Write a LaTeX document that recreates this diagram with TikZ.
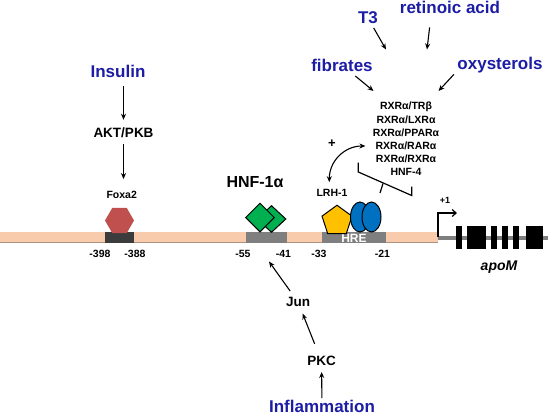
\documentclass[tikz,border=0pt]{standalone}
\usepackage{fontspec}
\setmainfont{Liberation Sans}
\usepackage{tikz}
\usetikzlibrary{shapes.geometric, arrows.meta, positioning, calc}
\definecolor{ligandblue}{RGB}{28, 28, 165}
\definecolor{promoterpeach}{RGB}{248, 203, 173}
\definecolor{promoteredge}{RGB}{175, 145, 125}
\definecolor{sitegray}{RGB}{127, 127, 127}
\definecolor{sitedark}{RGB}{60, 60, 60}
\definecolor{foxared}{RGB}{192, 80, 77}
\definecolor{hnfgreen}{RGB}{0, 176, 80}
\definecolor{lrhgold}{RGB}{255, 192, 0}
\definecolor{rxrblue}{RGB}{0, 112, 192}

\begin{document}
\begin{tikzpicture}[x=1pt, y=-1pt,
    ligand/.style={font=\fontsize{17}{19}\selectfont\bfseries, text=ligandblue, inner sep=2pt},
    kinase/.style={font=\fontsize{13.5}{15}\selectfont\bfseries, inner sep=2pt},
    small/.style={font=\fontsize{10.5}{12}\selectfont\bfseries, inner sep=2pt},
    arr/.style={-{Stealth[length=6pt, width=5pt]}, line width=1.1pt},
    dblarr/.style={{Stealth[length=6pt, width=5pt]}-{Stealth[length=6pt, width=5pt]}, line width=1.1pt}]
    \useasboundingbox (0,0) rectangle (550,416);

    % Gene body and exons
    \draw[sitegray, line width=4pt] (437,237.5) -- (548,237.5);
    \foreach \a/\b in {456/462, 467/485.5, 491/497, 502/508, 513/519, 526/543} {
        \fill[black] (\a,226) rectangle (\b,249);
    }
    \node (apom) at (499,267) [font=\fontsize{14}{16}\selectfont\bfseries\itshape] {apoM};

    % Promoter with binding sites
    \fill[promoterpeach] (0,232) rectangle (438,243);
    \draw[promoteredge, line width=1pt] (0,242.5) -- (438,242.5);
    \fill[sitedark] (105,232) rectangle (134,243);
    \fill[sitegray] (246,232) rectangle (287,243);
    \fill[sitegray] (322,232) rectangle (386,243);
    \node (hre) at (354,238) [font=\fontsize{12}{13}\selectfont\bfseries, text=white] {HRE};
    \foreach \x/\t in {100/-398, 135/-388, 243/-55, 283.5/-41, 319/-33, 382.5/-21} {
        \node (pos\t) at (\x,253.5) [small] {\t};
    }

    % Transcription start
    \coordinate (tss) at (438,237);
    \coordinate (tssend) at (457,213);
    \draw[line width=1.2pt, -{Straight Barb[length=4pt, width=7pt]}] (tss) |- (tssend);
    \node (plusone) at (445,200) [font=\fontsize{9}{10}\selectfont\bfseries] {+1};

    % Insulin pathway
    \node (insulin) at (118,71) [ligand] {Insulin};
    \node (akt) at (123.5,133) [kinase] {AKT/PKB};
    \node (foxalbl) at (121.7,195) [small] {Foxa2};
    \node (foxa) at (119.5,220.5) [regular polygon, regular polygon sides=6, minimum size=29pt, inner sep=0pt, fill=foxared] {};
    \draw[arr, shorten <=7pt, shorten >=6pt] (insulin.south -| akt) -- (akt.north);
    \draw[arr, shorten <=4pt, shorten >=10pt] (akt.south) -- (akt.south |- foxalbl.north);

    % HNF-1alpha and inflammation
    \node (hnflbl) at (255,182) [font=\fontsize{16}{18}\selectfont\bfseries] {HNF-1α};
    \node (hnfb) at (271.5,219) [diamond, draw, line width=1pt, fill=hnfgreen, minimum width=29pt, minimum height=27pt, inner sep=0pt] {};
    \node (hnfa) at (260,217.5) [diamond, draw, line width=1pt, fill=hnfgreen, minimum width=29pt, minimum height=29pt, inner sep=0pt] {};
    \coordinate (hnfin) at (269,261.5);
    \node (jun) at (298,302) [kinase] {Jun};
    \node (pkc) at (321.5,361) [kinase] {PKC};
    \node (inflam) at (322,406.5) [ligand] {Inflammation};
    \draw[arr, shorten <=5pt] (jun) -- (hnfin);
    \draw[arr, shorten <=11pt, shorten >=5pt] (pkc) -- (jun);
    \draw[arr, shorten >=4pt] (inflam) -- (pkc);

    % LRH-1 and nuclear receptors on HRE
    \node (lrhlbl) at (332,193) [small] {LRH-1};
    \node (lrh) at (337,221) [regular polygon, regular polygon sides=5, minimum size=31.5pt, inner sep=0pt, draw, line width=1pt, fill=lrhgold] {};
    \node (rxra) at (360,217) [ellipse, draw, line width=1pt, fill=rxrblue, minimum width=19pt, minimum height=30pt, inner sep=0pt] {};
    \node (rxrb) at (371.5,217) [ellipse, draw, line width=1pt, fill=rxrblue, minimum width=19pt, minimum height=30pt, inner sep=0pt] {};

    % Receptor dimers
    \foreach \txt [count=\i] in {RXRα/TRβ, RXRα/LXRα, RXRα/PPARα, RXRα/RARα, RXRα/RXRα, HNF-4} {
        \node (rxr\i) at (406,94+13*\i) [small] {\txt};
    }
    \draw[line width=1.2pt] (358.3,162.5) -- (358.3,172) -- (411.7,195.5) -- (411.7,186.5);
    \draw[line width=1.2pt] (383,183.5) -- (380,193);
    \node (plus) at (332,144) [font=\fontsize{13}{14}\selectfont\bfseries] {+};
    \draw[dblarr, shorten <=8pt, shorten >=5pt] (rxr4.west) .. controls +(-29,0) and +(0,-26) .. (lrhlbl.115);

    % Ligands
    \node (tthree) at (368,18) [ligand] {T3};
    \node (retinoic) at (450,7) [ligand] {retinoic acid};
    \node (fibrates) at (342,65) [ligand] {fibrates};
    \node (oxysterols) at (500,65) [ligand] {oxysterols};
    \coordinate (tthreetip) at (386,49.5);
    \coordinate (retinoictip) at (427,49.5);
    \coordinate (fibratestip) at (373.5,91);
    \coordinate (oxysterolstip) at (438.5,91);
    \draw[arr, shorten <=2pt] (tthree) -- (tthreetip);
    \draw[arr, shorten <=12pt] (retinoic.204) -- (retinoictip);
    \draw[arr, shorten <=4pt] (fibrates) -- (fibratestip);
    \draw[arr, shorten <=2pt] (oxysterols.190) -- (oxysterolstip);
\end{tikzpicture}
\end{document}
